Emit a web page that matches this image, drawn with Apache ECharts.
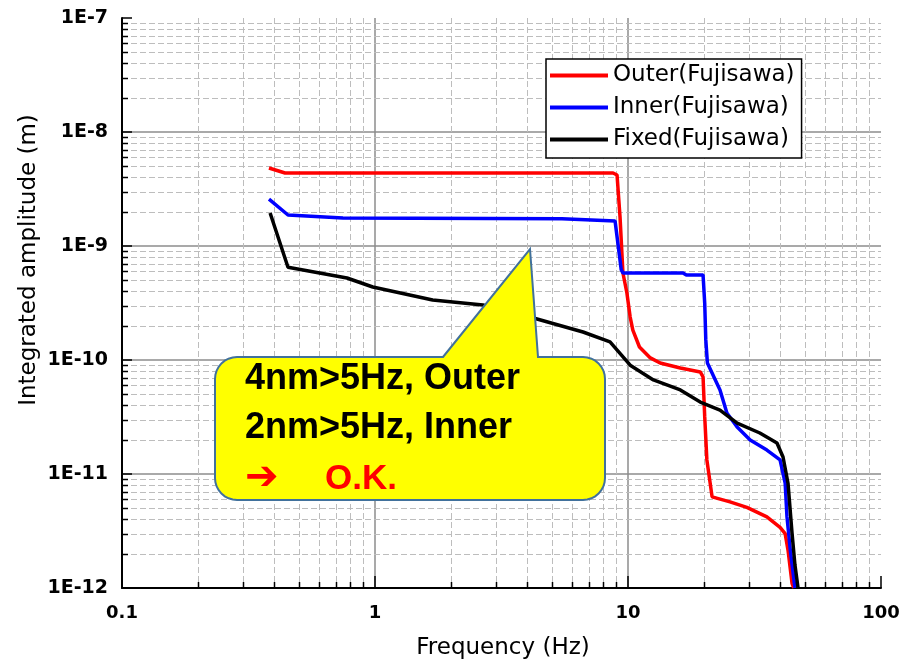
<!DOCTYPE html>
<html><head><meta charset="utf-8">
<script src="https://cdn.jsdelivr.net/npm/echarts@6/dist/echarts.min.js"></script>
<style>html,body{margin:0;padding:0;background:#fff}#c{width:903px;height:664px}</style>
</head><body><div id="c"></div>
<script>
const seriesNames = ['Outer(Fujisawa)', 'Inner(Fujisawa)', 'Fixed(Fujisawa)'];
const seriesColors = ['#ff0000', '#0000ff', '#000000'];

const outerFreq = [0.381, 0.441, 8.73, 9.05, 9.3, 9.55, 9.9, 10.2, 10.45, 11.1, 12.2, 13.4, 16.1, 19.3, 19.8, 20.1, 20.5, 21.5, 25.3, 29.5, 35.4, 39.9, 41.8, 42.9, 44.5, 45.2];
const outerAmp  = [4.83e-9, 4.37e-9, 4.37e-9, 4.2e-9, 1.8e-9, 5.8e-10, 3.87e-10, 2.38e-10, 1.83e-10, 1.3e-10, 1.05e-10, 9.4e-11, 8.5e-11, 7.85e-11, 7.1e-11, 3.2e-11, 1.33e-11, 6.3e-12, 5.7e-12, 5.1e-12, 4.2e-12, 3.4e-12, 3.0e-12, 2.15e-12, 1.1e-12, 1.0e-12];

const innerFreq = [0.381, 0.453, 0.747, 5.48, 8.89, 9.3, 9.4, 9.55, 16.5, 17.0, 19.8, 20.1, 20.3, 20.6, 23.1, 24.6, 27.0, 30.4, 35.4, 39.9, 41.8, 42.5, 43.8, 45.7];
const innerAmp  = [2.58e-9, 1.87e-9, 1.76e-9, 1.73e-9, 1.66e-9, 7.5e-10, 6.2e-10, 5.8e-10, 5.8e-10, 5.57e-10, 5.57e-10, 3.16e-10, 1.5e-10, 9.4e-11, 5.46e-11, 3.43e-11, 2.58e-11, 1.99e-11, 1.62e-11, 1.33e-11, 8.3e-12, 4.2e-12, 2.15e-12, 1.0e-12];

const fixedFreq = [0.385, 0.453, 0.775, 0.98, 1.69, 2.67, 4.37, 6.64, 8.49, 10.2, 12.6, 16.1, 19.3, 23.1, 27.0, 33.2, 38.8, 41.0, 42.9, 44.5, 45.7, 47.0];
const fixedAmp  = [1.95e-9, 6.5e-10, 5.24e-10, 4.37e-10, 3.36e-10, 3.04e-10, 2.29e-10, 1.76e-10, 1.44e-10, 9.0e-11, 6.68e-11, 5.46e-11, 4.28e-11, 3.64e-11, 2.8e-11, 2.29e-11, 1.87e-11, 1.41e-11, 8.3e-12, 3.03e-12, 1.59e-12, 1.0e-12];

const xTicks = [0.1, 1, 10, 100];
const xTickLabels = ['0.1', '1', '10', '100'];
const yTicks = [1e-12, 1e-11, 1e-10, 1e-9, 1e-8, 1e-7];
const yTickLabels = ['1E-12', '1E-11', '1E-10', '1E-9', '1E-8', '1E-7'];

const xAxisTitle = 'Frequency (Hz)';
const yAxisTitle = 'Integrated amplitude (m)';
const calloutLines = ['4nm>5Hz, Outer', '2nm>5Hz, Inner'];
const calloutArrow = '\u2794';
const calloutOK = 'O.K.';

function zip(a, b) { return a.map((v, i) => [v, b[i]]); }
function labelFor(v, ticks, labels) {
  let best = -1, bd = Infinity;
  ticks.forEach((t, i) => { const d = Math.abs(Math.log10(t) - Math.log10(v)); if (d < bd) { bd = d; best = i; } });
  return bd < 0.01 ? labels[best] : '';
}

// minor grid positions (2..9 within each decade)
const minorGrid = [];
for (let e = -1; e <= 1; e++) for (let k = 2; k <= 9; k++) minorGrid.push([k * Math.pow(10, e), 1e-10, 0]);
for (let e = -12; e <= -8; e++) for (let k = 2; k <= 9; k++) minorGrid.push([1, k * Math.pow(10, e), 1]);

function calloutPoints(x0, y0, x1, y1, r, bl, tip, br) {
  const pts = [];
  function arc(cx, cy, a0, a1) {
    const n = 8;
    for (let i = 0; i <= n; i++) { const a = a0 + (a1 - a0) * i / n; pts.push([cx + r * Math.cos(a), cy + r * Math.sin(a)]); }
  }
  pts.push([bl, y0]); pts.push(tip); pts.push([br, y0]);
  arc(x1 - r, y0 + r, -Math.PI / 2, 0);
  arc(x1 - r, y1 - r, 0, Math.PI / 2);
  arc(x0 + r, y1 - r, Math.PI / 2, Math.PI);
  arc(x0 + r, y0 + r, Math.PI, Math.PI * 1.5);
  return pts;
}

const chart = echarts.init(document.getElementById('c'), null, { renderer: 'canvas' });
const lineData = [zip(outerFreq, outerAmp), zip(innerFreq, innerAmp), zip(fixedFreq, fixedAmp)];

const option = {
  animation: false,
  backgroundColor: '#ffffff',
  grid: { left: 122, right: 22, top: 18, bottom: 76, containLabel: false },
  xAxis: {
    type: 'log', logBase: 10, min: 0.1, max: 100,
    axisLine: { show: true, onZero: false, lineStyle: { color: '#000', width: 2 } },
    axisTick: { show: true, inside: true, length: 12, lineStyle: { color: '#000', width: 1.5 } },
    axisLabel: { color: '#000', fontFamily: 'DejaVu Sans', fontWeight: 'bold', fontSize: 18, margin: 16,
      formatter: v => labelFor(v, xTicks, xTickLabels) },
    splitLine: { show: true, showMinLine: false, showMaxLine: false, lineStyle: { color: '#8c8c8c', width: 1.5 } },
    minorTick: { show: false }, minorSplitLine: { show: false }
  },
  yAxis: {
    type: 'log', logBase: 10, min: 1e-12, max: 1e-7,
    axisLine: { show: true, onZero: false, lineStyle: { color: '#000', width: 2 } },
    axisTick: { show: true, inside: true, length: 10, lineStyle: { color: '#000', width: 1.5 } },
    axisLabel: { color: '#000', fontFamily: 'DejaVu Sans', fontWeight: 'bold', fontSize: 19, margin: 14,
      formatter: v => labelFor(v, yTicks, yTickLabels) },
    splitLine: { show: true, showMinLine: false, showMaxLine: false, lineStyle: { color: '#8c8c8c', width: 1.5 } },
    minorTick: { show: false }, minorSplitLine: { show: false }
  },
  legend: {
    data: seriesNames, orient: 'vertical', left: 546, top: 59,
    itemWidth: 58, itemHeight: 4, itemGap: 9, icon: 'rect',
    padding: [5, 7, 7, 4], backgroundColor: '#ffffff', borderColor: '#000', borderWidth: 1.5,
    textStyle: { fontFamily: 'DejaVu Sans', fontSize: 23, color: '#000' }, z: 10
  },
  series: [
    {
      type: 'custom', name: 'grid', silent: true, z: 1,
      encode: { x: 0, y: 1 },
      data: minorGrid,
      renderItem: function (params, api) {
        const cs = params.coordSys;
        const t = api.value(2);
        if (t === 0) {
          const x = Math.round(api.coord([api.value(0), 1e-10])[0]) + 0.5;
          return { type: 'group', children: [
            { type: 'line', shape: { x1: x, y1: cs.y, x2: x, y2: cs.y + cs.height }, style: { stroke: '#bdbdbd', lineWidth: 1, lineDash: [6, 3] } },
            { type: 'line', shape: { x1: x, y1: cs.y + cs.height, x2: x, y2: cs.y + cs.height - 6 }, style: { stroke: '#000', lineWidth: 1.5 } }
          ] };
        } else {
          const y = Math.round(api.coord([1, api.value(1)])[1]) + 0.5;
          return { type: 'group', children: [
            { type: 'line', shape: { x1: cs.x, y1: y, x2: cs.x + cs.width, y2: y }, style: { stroke: '#bdbdbd', lineWidth: 1, lineDash: [6, 3] } },
            { type: 'line', shape: { x1: cs.x, y1: y, x2: cs.x + 6, y2: y }, style: { stroke: '#000', lineWidth: 1.5 } }
          ] };
        }
      }
    }
  ].concat(seriesNames.map((n, i) => ({
    type: 'line', name: n, data: lineData[i], showSymbol: false, symbol: 'none', z: 3,
    color: seriesColors[i], lineStyle: { color: seriesColors[i], width: 3.5 }
  }))),
  graphic: [
    { type: 'text', x: 503, y: 648, style: { text: xAxisTitle, font: '23px "DejaVu Sans"', fill: '#000', align: 'center', verticalAlign: 'middle', textAlign: 'center', textVerticalAlign: 'middle' } },
    { type: 'text', x: 29, y: 260, rotation: Math.PI / 2, style: { text: yAxisTitle, font: '23px "DejaVu Sans"', fill: '#000', align: 'center', verticalAlign: 'middle', textAlign: 'center', textVerticalAlign: 'middle' } },
    { type: 'polygon', z: 20, shape: { points: calloutPoints(215, 357, 605, 500, 22, 443, [530, 249], 538) }, style: { fill: '#ffff00', stroke: '#41719c', lineWidth: 2 } },
    { type: 'text', z: 21, x: 245, y: 379, style: { text: calloutLines[0], font: 'bold 36px "Liberation Sans"', fill: '#000', align: 'left', verticalAlign: 'middle', textAlign: 'left', textVerticalAlign: 'middle' } },
    { type: 'text', z: 21, x: 245, y: 428, style: { text: calloutLines[1], font: 'bold 36px "Liberation Sans"', fill: '#000', align: 'left', verticalAlign: 'middle', textAlign: 'left', textVerticalAlign: 'middle' } },
    { type: 'text', z: 21, x: 245, y: 479, style: { text: calloutArrow, font: 'bold 40px "DejaVu Sans"', fill: '#ff0000', align: 'left', verticalAlign: 'middle', textAlign: 'left', textVerticalAlign: 'middle' } },
    { type: 'text', z: 21, x: 325, y: 479, style: { text: calloutOK, font: 'bold 35px "Liberation Sans"', fill: '#ff0000', align: 'left', verticalAlign: 'middle', textAlign: 'left', textVerticalAlign: 'middle' } }
  ]
};
chart.setOption(option);
</script>
</body></html>
